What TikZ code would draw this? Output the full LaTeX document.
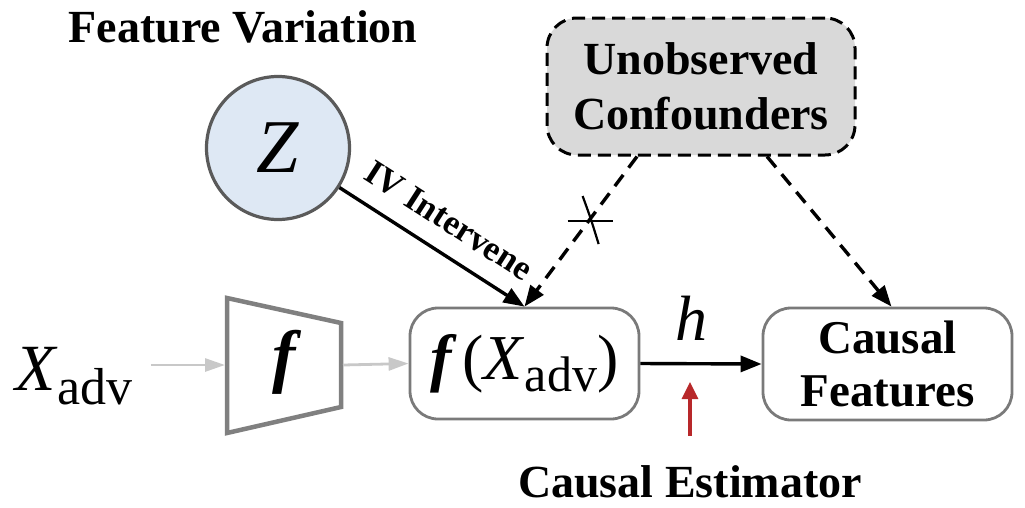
\documentclass[tikz,border=0pt]{standalone}
\usepackage{fontspec}
\setmainfont{Liberation Serif}
\usetikzlibrary{arrows.meta,calc}
\definecolor{circfill}{HTML}{DEE8F4}
\definecolor{circline}{HTML}{5A5A5A}
\definecolor{confgray}{HTML}{D9D9D9}
\definecolor{boxline}{HTML}{7A7A7A}
\definecolor{trapline}{HTML}{808080}
\definecolor{lightarr}{HTML}{C8C8C8}
\definecolor{estred}{HTML}{B8282A}
\begin{document}
\begin{tikzpicture}[x=1pt,y=-1pt,
  lbl/.style={font=\fontsize{46}{55}\selectfont\bfseries, align=center, inner sep=0pt},
  lblcf/.style={font=\fontsize{47}{53}\selectfont\bfseries, align=center, inner sep=0pt},
  lblsmall/.style={font=\fontsize{35}{40}\selectfont\bfseries, inner sep=0pt},
  roundbox/.style={draw=boxline, line width=2.8pt, rounded corners=28pt, inner sep=0pt, align=center},
  arr/.style={line width=3.4pt, -{Triangle[length=21pt,width=16pt]}},
  dasharr/.style={arr, dash pattern=on 14pt off 9pt},
  grayarr/.style={draw=lightarr, line width=2.8pt, -{Triangle[length=20pt,width=13pt]}},
  redarr/.style={draw=estred, line width=3.2pt, -{Triangle[length=17pt,width=16pt]}}
]
\useasboundingbox (0,0) rectangle (1025,507);

% title
\node[lbl, anchor=base] (title) at (243,42) {Feature Variation};

% Z circle
\node[circle, draw=circline, fill=circfill, line width=3.2pt, minimum size=143pt, inner sep=0pt] (Z) at (278,148)
  {\fontsize{76}{76}\selectfont\itshape Z};

% confounders
\node[lbl, draw=black, fill=confgray, line width=3pt, dash pattern=on 13pt off 7pt,
      rounded corners=30pt, minimum width=308pt, minimum height=137pt] (conf) at (701,86.5)
  {Unobserved\\Confounders};

% encoder trapezoid
\draw[draw=trapline, line width=4.5pt, line join=miter] (227,298) -- (341,323) -- (341,407) -- (227,433) -- cycle;
\node[inner sep=0pt] (fenc) at (284,362) {\fontsize{70}{70}\selectfont\bfseries\itshape f};
\coordinate (encL) at (225,365);
\coordinate (encR) at (343,365);

% X_adv
\node[anchor=base west, inner sep=0pt] (xadv) at (15,390)
  {\fontsize{66}{66}\selectfont\itshape X\/\raisebox{-14pt}{\fontsize{52}{52}\selectfont\upshape adv}};

% f(X_adv) box
\node[roundbox, minimum width=229pt, minimum height=111pt] (fx) at (524.5,363.5)
  {\fontsize{64}{64}\selectfont{\bfseries\itshape f}\,(\textit{X}\/\raisebox{-12pt}{\fontsize{50}{50}\selectfont adv})};

% causal features box
\node[roundbox, lblcf, minimum width=249pt, minimum height=112pt] (cf) at (887.5,364)
  {Causal\\Features};

% causal estimator
\node[lbl, anchor=base] (est) at (690,497) {Causal Estimator};

% connectors
\draw[grayarr] (xadv.east |- encL) [shorten <=18pt] -- (encL);
\draw[grayarr] (encR) -- (fx.west);

\draw[arr] (Z) -- node[midway, sloped, above=18pt, lblsmall] {IV Intervene} (fx.north);

\draw[dasharr] ([xshift=-64pt]conf.south) -- coordinate[pos=0.43] (xm) (fx.north);
\draw[dasharr] ([xshift=66pt]conf.south) -- ([xshift=4pt]cf.north);

% cross mark
\draw[line width=2.2pt] ($(xm)+(-21,0)$) -- ($(xm)+(24,0)$);
\draw[line width=2.2pt] ($(xm)+(-6,-25)$) .. controls ($(xm)+(2,-3)$) .. ($(xm)+(10,23)$);

\draw[arr] (fx.east) -- node[pos=0.42, above=22pt, inner sep=0pt] {\fontsize{64}{64}\selectfont\itshape h} (cf.west);

\coordinate (redtop) at (690,382);
\draw[redarr] ($(est.north)+(0,-29)$) -- (redtop);
\end{tikzpicture}
\end{document}
